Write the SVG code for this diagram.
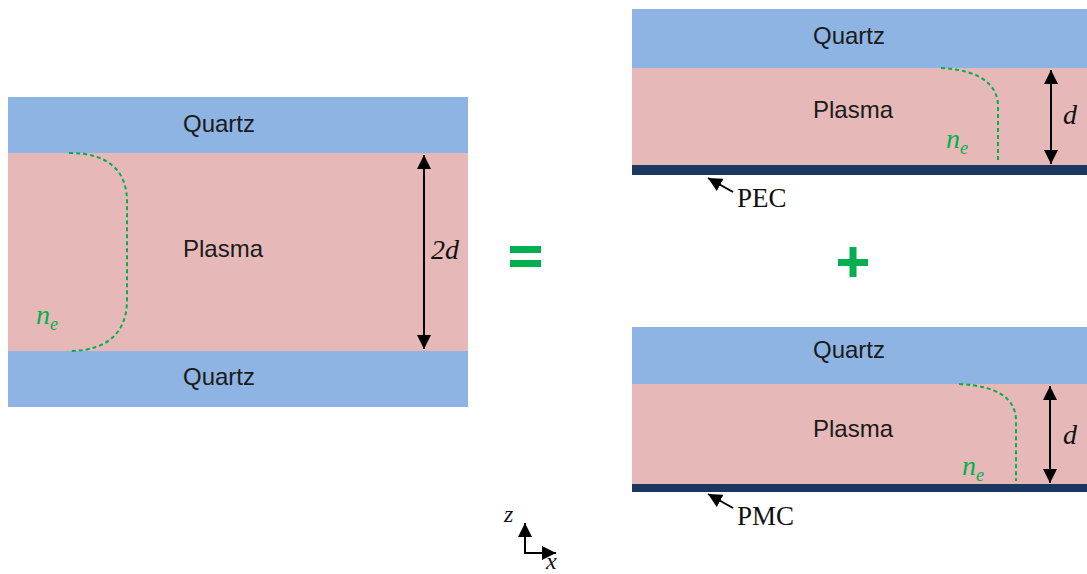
<svg xmlns="http://www.w3.org/2000/svg" width="1087" height="574" viewBox="0 0 1087 574">
<defs>
<style>
.q{fill:#8eb4e3}
.p{fill:#e6b9b8}
.m{fill:#1b3760}
.lbl{font-family:"Liberation Sans",Arial,sans-serif;font-size:24px;fill:#1a1a1a}
.serif{font-family:"Liberation Serif","Times New Roman",serif;font-size:27px;fill:#111}
.it{font-family:"Liberation Serif","Times New Roman",serif;font-style:italic;fill:#111}
.ne{font-family:"Liberation Serif","Times New Roman",serif;font-style:italic;fill:#00b050}
.dash{fill:none;stroke:#00b050;stroke-width:2;stroke-dasharray:4 3}
.dim{stroke:#000;stroke-width:2;fill:none}
</style>
<marker id="ah" viewBox="0 0 10 10" refX="10" refY="5" markerWidth="7" markerHeight="7" orient="auto-start-reverse" markerUnits="strokeWidth">
<path d="M0,0 L10,5 L0,10 z" fill="#000"/>
</marker>
<marker id="ah2" viewBox="0 0 10 10" refX="10" refY="5" markerWidth="7" markerHeight="7" orient="auto-start-reverse" markerUnits="strokeWidth">
<path d="M0,0 L10,5 L0,10 z" fill="#000"/>
</marker>
</defs>
<rect width="1087" height="574" fill="#fff"/>

<g id="left-panel">
<rect class="q" x="8" y="97" width="460" height="56"/>
<rect class="p" x="8" y="153" width="460" height="198"/>
<rect class="q" x="8" y="351" width="460" height="56"/>
<text class="lbl" x="183" y="132">Quartz</text>
<text class="lbl" x="183" y="257">Plasma</text>
<text class="lbl" x="183" y="385">Quartz</text>
<text class="it" x="431" y="259" font-size="28">2d</text>
<text class="ne" x="36" y="324" font-size="28">n<tspan font-size="18" dy="6">e</tspan></text>
</g>

<g id="top-right-panel">
<rect class="q" x="632" y="9" width="455" height="59"/>
<rect class="p" x="632" y="68" width="455" height="97"/>
<rect class="m" x="632" y="165" width="455" height="10"/>
<text class="lbl" x="813" y="44">Quartz</text>
<text class="lbl" x="813" y="118">Plasma</text>
<text class="it" x="1063" y="124" font-size="28">d</text>
<text class="ne" x="946" y="148" font-size="28">n<tspan font-size="18" dy="6">e</tspan></text>
<text class="serif" x="737" y="207">PEC</text>
</g>

<g id="bottom-right-panel">
<rect class="q" x="632" y="327" width="455" height="57"/>
<rect class="p" x="632" y="384" width="455" height="100"/>
<rect class="m" x="632" y="484" width="455" height="8"/>
<text class="lbl" x="813" y="358">Quartz</text>
<text class="lbl" x="813" y="437">Plasma</text>
<text class="it" x="1063" y="444" font-size="28">d</text>
<text class="ne" x="962" y="475" font-size="28">n<tspan font-size="18" dy="6">e</tspan></text>
<text class="serif" x="737" y="525">PMC</text>
</g>

<g id="operators" fill="#00b050">
<rect x="510" y="246" width="31" height="7"/>
<rect x="510" y="260" width="31" height="7"/>
<rect x="838" y="259" width="30" height="7"/>
<rect x="849.5" y="247" width="7" height="30"/>
</g>

<g id="axes">
<path class="dim" d="M525,553 L525,523" marker-end="url(#ah2)"/>
<path class="dim" d="M524,553 L556,553" marker-end="url(#ah2)"/>
<text class="it" x="504" y="522" font-size="24">z</text>
<text class="it" x="546" y="569" font-size="24">x</text>
</g>

<g id="connectors">
<path class="dim" d="M424,155 L424,349" marker-start="url(#ah)" marker-end="url(#ah)"/>
<path class="dim" d="M1051,70 L1051,164" marker-start="url(#ah)" marker-end="url(#ah)"/>
<path class="dim" d="M1050,386 L1050,483" marker-start="url(#ah)" marker-end="url(#ah)"/>
<path class="dash" d="M69,153 C110,153 127,172 127,202 L127,300 C127,330 110,351 69,351"/>
<path class="dash" d="M941,68 C980,70 998,85 998,106 L998,163"/>
<path class="dash" d="M959,384 C1000,386 1016,400 1016,421 L1016,481"/>
<path class="dim" d="M733,192 L708,178" marker-end="url(#ah2)"/>
<path class="dim" d="M733,508 L708,494" marker-end="url(#ah2)"/>
</g>
</svg>
